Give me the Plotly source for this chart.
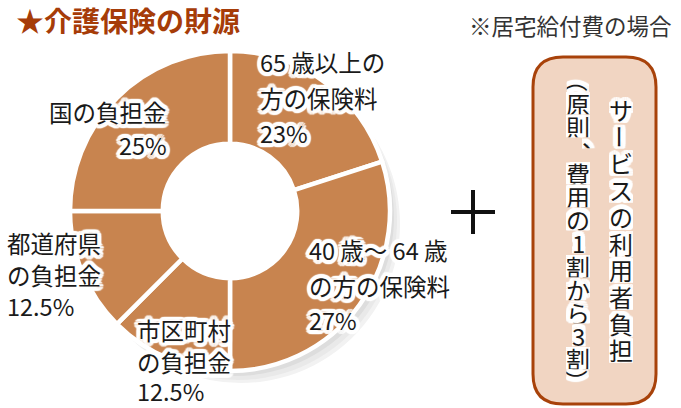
import math
import plotly.graph_objects as go

W, H = 681, 408

# ---- data ----
slice_names = ["65歳以上の方の保険料", "40歳〜64歳の方の保険料", "市区町村の負担金", "都道府県の負担金", "国の負担金"]
slice_shares = [20, 30, 12.5, 12.5, 25]          # shares as drawn in the ring
label_lines = [
    ["65 歳以上の", "方の保険料", "23%"],
    ["40 歳〜 64 歳", "の方の保険料", "27%"],
    ["市区町村", "の負担金", "12.5%"],
    ["都道府県", "の負担金", "12.5%"],
    ["国の負担金", "25%"],
]
title_text = "★介護保険の財源"
note_text = "※居宅給付費の場合"
box_col_right = "サービスの利用者負担"
box_col_left = "（原則、費用の1割から3割）"

# ---- style / layout ----
FONT = "Noto Sans CJK JP"
BROWN = "#C8844F"
cx, cy, R = 230, 211, 160
hole = 0.42

def dom(cx_, cy_, r_):
    return dict(x=[(cx_ - r_) / W, (cx_ + r_) / W], y=[1 - (cy_ + r_) / H, 1 - (cy_ - r_) / H])

fig = go.Figure()

# soft shadow rings
for dx, dy, col, hl in [(11, 13, "#f2f2f2", 0.56), (8, 10, "#e9e9e9", 0.54), (5, 6, "#dddddd", 0.50)]:
    fig.add_trace(go.Pie(values=slice_shares, labels=slice_names, sort=False, direction="clockwise",
                         rotation=0, hole=hl, domain=dom(cx + dx, cy + dy, R - 1),
                         marker=dict(colors=[col] * 5, line=dict(width=0)),
                         textinfo="none", hoverinfo="skip", showlegend=False))

fig.add_trace(go.Pie(values=slice_shares, labels=slice_names, sort=False, direction="clockwise",
                     rotation=0, hole=hole, domain=dom(cx, cy, R),
                     marker=dict(colors=[BROWN] * 5, line=dict(color="white", width=4.5)),
                     textinfo="none", hoverinfo="skip", showlegend=False))

def halo(px, col="white", n=16):
    offs = []
    for k in range(n):
        a = 2 * math.pi * k / n
        offs.append(f"{px*math.cos(a):.1f}px {px*math.sin(a):.1f}px 1px {col}")
    return ", ".join(offs)

label_pos = [  # (x, [y per line], anchor)
    (258, [62, 98, 133], "left"),
    (307, [250, 286, 320], "left"),
    (135, [330, 362, 391], "left"),
    (5, [243, 275, 306], "left"),
    (169, [112, 145], "right"),
]
ann = []
for lines, (x, ys, anc) in zip(label_lines, label_pos):
    for t, y in zip(lines, ys):
        ann.append(dict(x=x, y=y, xref="x", yref="y", text=t, showarrow=False, xanchor=anc, yanchor="middle",
                        font=dict(family=FONT, size=23.5, color="#1a1a1a", shadow=halo(4))))

ann.append(dict(x=14, y=20, xref="x", yref="y", text=f"<b>{title_text}</b>", showarrow=False,
                xanchor="left", yanchor="middle", font=dict(family=FONT, size=28, color="#A63C08")))
ann.append(dict(x=674, y=25, xref="x", yref="y", text=note_text, showarrow=False,
                xanchor="right", yanchor="middle", font=dict(family=FONT, size=22.5, color="#333333")))

# vertical text in the box, one glyph per cell
rot = set("ー（）")
def col_ann(text, x, y0, step):
    for i, ch in enumerate(text):
        y = y0 + step * i
        xx, yy, ang = x, y, 0
        if ch in rot:
            ang = 90
        if ch == "、":
            xx, yy = x + 16, y - 13
        ann.append(dict(x=xx, y=yy, xref="x", yref="y", text=ch, showarrow=False, xanchor="center",
                        yanchor="middle", textangle=ang, height=step - 1, valign="middle",
                        font=dict(family=FONT, size=24, color="#1a1a1a", shadow=halo(5))))

col_ann(box_col_right, 621, 110, 26.7)
col_ann(box_col_left, 578, 80, 23.2)

x0, x1, y0, y1, r = 533, 656, 57, 404, 30
box_path = (f"M {x0+r},{y0} L {x1-r},{y0} Q {x1},{y0} {x1},{y0+r} L {x1},{y1-r} Q {x1},{y1} {x1-r},{y1} "
            f"L {x0+r},{y1} Q {x0},{y1} {x0},{y1-r} L {x0},{y0+r} Q {x0},{y0} {x0+r},{y0} Z")
shapes = [
    dict(type="path", path=box_path, xref="x", yref="y", fillcolor="#F1D5C2",
         line=dict(color="#A8420A", width=3), layer="below"),
    dict(type="line", x0=451, x1=495, y0=212, y1=212, xref="x", yref="y", line=dict(color="#111111", width=4)),
    dict(type="line", x0=473, x1=473, y0=190, y1=234, xref="x", yref="y", line=dict(color="#111111", width=4)),
]

fig.update_layout(
    width=W, height=H, margin=dict(l=0, r=0, t=0, b=0),
    paper_bgcolor="white", plot_bgcolor="rgba(0,0,0,0)", showlegend=False,
    xaxis=dict(range=[0, W], visible=False, fixedrange=True),
    yaxis=dict(range=[H, 0], visible=False, fixedrange=True),
    annotations=ann, shapes=shapes,
)
fig.write_html("out.html")
